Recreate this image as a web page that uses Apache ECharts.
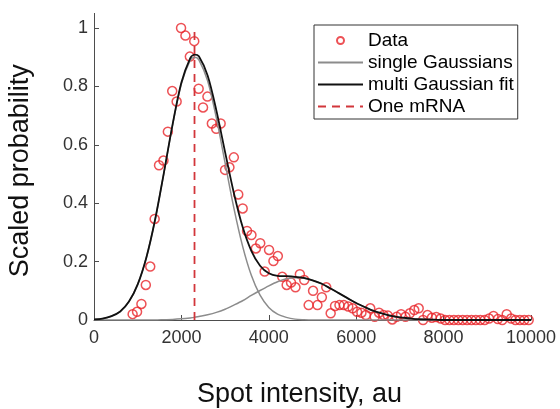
<!DOCTYPE html>
<html><head><meta charset="utf-8">
<script src="https://cdn.jsdelivr.net/npm/echarts@6/dist/echarts.min.js"></script>
<style>html,body{margin:0;padding:0;background:#fff}#c{width:560px;height:409px}</style>
</head><body><div id="c"></div>
<script>
// Histogram data (Spot intensity, Scaled probability)
const dataX = [884,985,1085,1186,1287,1388,1488,1589,1690,1790,1891,1992,2092,2193,2294,2395,2495,2596,2697,2797,2898,2999,3099,3200,3301,3402,3502,3603,3704,3804,3905,4006,4106,4207,4308,4409,4509,4610,4711,4811,4912,5013,5113,5214,5315,5416,5516,5617,5718,5818,5919,6020,6120,6221,6322,6423,6523,6624,6725,6825,6926,7027,7127,7228,7329,7430,7530,7631,7732,7832,7933,8034,8134,8235,8336,8437,8537,8638,8739,8839,8940,9041,9141,9242,9343,9444,9544,9645,9746,9846,9947];
const dataY = [0.020,0.028,0.055,0.120,0.183,0.346,0.530,0.546,0.645,0.784,0.748,1.000,0.974,0.902,0.955,0.792,0.728,0.765,0.673,0.655,0.673,0.514,0.523,0.557,0.430,0.382,0.305,0.291,0.245,0.263,0.166,0.240,0.202,0.219,0.148,0.120,0.128,0.112,0.157,0.137,0.051,0.100,0.051,0.078,0.112,0.023,0.048,0.051,0.051,0.046,0.040,0.028,0.025,0.017,0.040,0.011,0.025,0.017,0.015,0.002,0.011,0.020,0.011,0.023,0.034,0.040,0.000,0.017,0.008,0.010,0.005,0,0,0,0,0,0,0,0,0,0,0.005,0.014,0.003,0,0.020,0.005,0,0,0,0];
// Fitted curves, sampled
const curveX = [0,200,400,600,800,1000,1200,1400,1600,1800,2000,2200,2300,2400,2600,2800,3000,3200,3400,3600,3800,4000,4200,4400,4600,4800,5000,5200,5400,5600,5800,6000,6200,6400,6600,6800,7000,7200,7400,7600,7800,8000,8500,9000,9500,10000];
const gauss1 = [0.002,0.005,0.013,0.029,0.063,0.122,0.215,0.345,0.504,0.669,0.809,0.889,0.900,0.891,0.819,0.692,0.538,0.384,0.253,0.153,0.085,0.043,0.020,0.009,0.003,0.001,0,0,0,0,0,0,0,0,0,0,0,0,0,0,0,0,0,0,0,0];
const gauss2 = [0,0,0,0,0,0,0,0,0.001,0.002,0.004,0.007,0.009,0.012,0.018,0.026,0.037,0.051,0.066,0.084,0.101,0.117,0.131,0.141,0.145,0.143,0.136,0.125,0.109,0.092,0.075,0.058,0.044,0.031,0.022,0.014,0.009,0.006,0.003,0.002,0.001,0,0,0,0,0];
const fitY = [0.002,0.005,0.013,0.029,0.063,0.122,0.215,0.345,0.505,0.671,0.813,0.896,0.909,0.903,0.837,0.718,0.575,0.435,0.319,0.237,0.186,0.160,0.151,0.150,0.148,0.144,0.136,0.125,0.109,0.092,0.075,0.058,0.044,0.031,0.022,0.014,0.009,0.006,0.003,0.002,0.001,0,0,0,0,0];
const mrnaX = [2300, 2300];
const mrnaY = [0, 1];
const yTicks = [0, 0.2, 0.4, 0.6, 0.8, 1];
const seriesNames = ['Data', 'single Gaussians', 'multi Gaussian fit', 'One mRNA'];

const zip = (xs, ys) => xs.map((x, i) => [x, ys[i]]);
const chart = echarts.init(document.getElementById('c'), null, {renderer: 'canvas'});
const font = 'Arial, "Liberation Sans", sans-serif';
const axisCol = '#4d4d4d';
chart.setOption({
  animation: false,
  grid: {left: 94, right: 29, top: 13.4, bottom: 89, containLabel: false, outerBoundsMode: 'none'},
  xAxis: {
    type: 'value', min: 0, max: 10000, interval: 2000,
    name: 'Spot intensity, au', nameLocation: 'middle', nameGap: 61,
    nameTextStyle: {fontFamily: font, fontSize: 27, color: '#111', padding: [0, 26, 0, 0]},
    axisLine: {show: true, lineStyle: {color: axisCol, width: 1}},
    axisTick: {show: true, inside: true, length: 5, lineStyle: {color: axisCol}},
    axisLabel: {fontFamily: font, fontSize: 18, color: '#333', margin: 9, formatter: v => String(v)},
    splitLine: {show: false}
  },
  yAxis: {
    type: 'value', min: 0, max: 1.05, interval: 0.2,
    name: 'Scaled probability', nameLocation: 'middle', nameGap: 60, nameRotate: 90,
    nameTextStyle: {fontFamily: font, fontSize: 27, color: '#111', padding: [0, 8, 0, 0]},
    axisLine: {show: true, lineStyle: {color: axisCol, width: 1}},
    axisTick: {show: true, inside: true, length: 5, lineStyle: {color: axisCol}, customValues: yTicks},
    axisLabel: {fontFamily: font, fontSize: 18, color: '#333', margin: 6, customValues: yTicks,
      formatter: v => String(Math.round(v * 10) / 10)},
    splitLine: {show: false}
  },
  legend: {
    orient: 'vertical', left: 314, top: 25,
    data: [
      {name: seriesNames[0]},
      {name: seriesNames[1], itemStyle: {opacity: 0}},
      {name: seriesNames[2], itemStyle: {opacity: 0}},
      {name: seriesNames[3], itemStyle: {opacity: 0}}
    ],
    itemWidth: 45, itemHeight: 7, itemGap: 3, padding: [6, 4, 3, 3],
    textStyle: {fontFamily: font, fontSize: 19, color: '#000'},
    borderColor: '#333', borderWidth: 1, backgroundColor: '#fff',
    selectedMode: false
  },
  series: [
    {name: seriesNames[0], type: 'scatter', data: zip(dataX, dataY), symbol: 'circle', symbolSize: 9,
     itemStyle: {color: 'rgba(0,0,0,0)', borderColor: '#e8262b', borderWidth: 1.5}, emphasis: {disabled: true}},
    {name: seriesNames[1], type: 'line', data: zip(curveX, gauss1), smooth: 0.3, showSymbol: false, symbol: 'none',
     lineStyle: {color: '#8c8c8c', width: 1.5}, itemStyle: {color: '#8c8c8c'}, emphasis: {disabled: true}},
    {name: seriesNames[1], type: 'line', data: zip(curveX, gauss2), smooth: 0.3, showSymbol: false, symbol: 'none',
     lineStyle: {color: '#8c8c8c', width: 1.5}, itemStyle: {color: '#8c8c8c'}, emphasis: {disabled: true}},
    {name: seriesNames[2], type: 'line', data: zip(curveX, fitY), smooth: 0.3, showSymbol: false, symbol: 'none',
     lineStyle: {color: '#111', width: 1.8}, itemStyle: {color: '#111'}, emphasis: {disabled: true}},
    {name: seriesNames[3], type: 'line', data: zip(mrnaX, mrnaY), showSymbol: false, symbol: 'none',
     lineStyle: {color: '#d2363b', width: 1.8, type: [8, 6]}, itemStyle: {color: '#d2363b'}, emphasis: {disabled: true}}
  ]
});
</script>
</body></html>
